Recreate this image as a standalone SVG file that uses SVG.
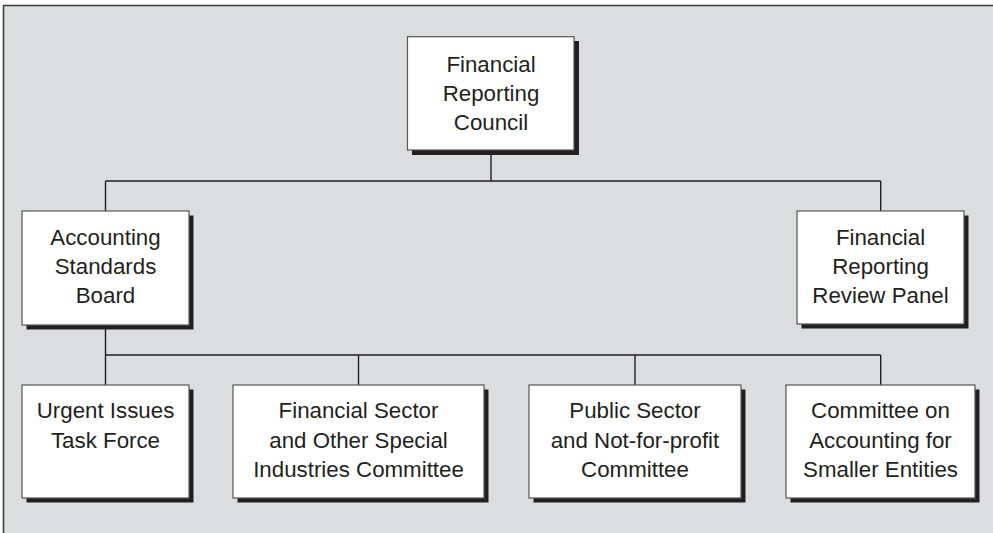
<svg xmlns="http://www.w3.org/2000/svg" width="993" height="533" viewBox="0 0 993 533">
<style>
.panel{fill:#dcdddf;stroke:#3a3a3a;stroke-width:1.5}
.sh{fill:#231f20}
.box{fill:#ffffff;stroke:#555555;stroke-width:1.2}
.ln{fill:none;stroke:#231f20;stroke-width:1.4}
text{font-family:"Liberation Sans",Arial,sans-serif;font-size:22.3px;fill:#231f20;text-anchor:middle}
</style>
<rect class="panel" x="3.5" y="5.5" width="1000" height="540"/>
<g id="connectors">
<path class="ln" d="M491,150 V181 M105.5,181 H880.7 M105.5,181 V211 M880.7,181 V211"/>
<path class="ln" d="M105.5,325 V355 M105.5,355 H880.7 M105.5,355 V385 M358.5,355 V385 M635,355 V385 M880.7,355 V385"/>
</g>
<g id="frc">
<rect class="sh" x="412" y="41" width="167" height="114"/>
<rect class="box" x="407.5" y="36.7" width="166.5" height="113.3"/>
<text x="491" y="72">Financial</text>
<text x="491" y="101">Reporting</text>
<text x="491" y="130">Council</text>
</g>
<g id="asb">
<rect class="sh" x="26.5" y="215.5" width="167" height="114"/>
<rect class="box" x="22" y="211" width="167" height="114"/>
<text x="105.5" y="245">Accounting</text>
<text x="105.5" y="274">Standards</text>
<text x="105.5" y="303">Board</text>
</g>
<g id="frrp">
<rect class="sh" x="801.5" y="215.5" width="167" height="113"/>
<rect class="box" x="797" y="211" width="167" height="113"/>
<text x="880.5" y="245">Financial</text>
<text x="880.5" y="274">Reporting</text>
<text x="880.5" y="303">Review Panel</text>
</g>
<g id="uitf">
<rect class="sh" x="26.5" y="389.5" width="167" height="113"/>
<rect class="box" x="22" y="385" width="167" height="113"/>
<text x="105.5" y="418">Urgent Issues</text>
<text x="105.5" y="448">Task Force</text>
</g>
<g id="fsosic">
<rect class="sh" x="237.5" y="389.5" width="251" height="113"/>
<rect class="box" x="233" y="385" width="251" height="113"/>
<text x="358.5" y="418">Financial Sector</text>
<text x="358.5" y="448">and Other Special</text>
<text x="358.5" y="477">Industries Committee</text>
</g>
<g id="psnfpc">
<rect class="sh" x="533.5" y="389.5" width="212" height="113"/>
<rect class="box" x="529" y="385" width="212" height="113"/>
<text x="635" y="418">Public Sector</text>
<text x="635" y="448">and Not-for-profit</text>
<text x="635" y="477">Committee</text>
</g>
<g id="case">
<rect class="sh" x="790.5" y="389.5" width="189" height="113"/>
<rect class="box" x="786" y="385" width="189" height="113"/>
<text x="880.5" y="418">Committee on</text>
<text x="880.5" y="448">Accounting for</text>
<text x="880.5" y="477">Smaller Entities</text>
</g>
</svg>
